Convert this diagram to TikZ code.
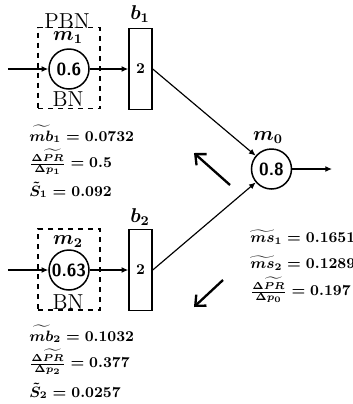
\documentclass[tikz,border=0pt]{standalone}
\usetikzlibrary{arrows.meta}
\begin{document}
\begin{tikzpicture}[x=0.6pt,y=-0.6pt,
  neuron/.style={circle,draw,line width=0.9pt,minimum size=24pt,inner sep=0pt,font=\sffamily\bfseries\fontsize{10.5}{12}\selectfont},
  bar/.style={draw,line width=0.9pt,minimum width=13.8pt,minimum height=48.6pt,inner sep=0pt,font=\bfseries\small},
  dbox/.style={draw,dashed,line width=0.8pt,minimum width=37.2pt,minimum height=48.6pt,inner sep=0pt},
  conn/.style={line width=0.7pt,-{Latex[length=4pt,width=3.5pt]}},
  flow/.style={line width=1.4pt,-{Straight Barb[length=5pt,width=9pt]}},
  txt/.style={anchor=west,inner sep=0pt,font=\fontsize{8.9}{11}\selectfont\boldmath},
  lbl/.style={inner sep=0pt,font=\large\boldmath},
  rm/.style={inner sep=0pt,font=\fontsize{13}{15}\selectfont}]
\useasboundingbox (0,0) rectangle (353,404);
% top branch
\node[dbox] (d1) at (69,68) {};
\node[neuron] (m1) at (69,69) {0.6};
\node[bar] (b1) at (140.5,69) {2};
\node[rm] (pbn) at (67,21) {PBN};
\node[lbl] (lm1) at (68,38) {$m_1$};
\node[rm] (bn1) at (68,99) {BN};
\node[lbl] (lb1) at (140,14) {$b_1$};
\coordinate (in1) at (8,69);
\draw[conn] (in1) -- (m1);
\draw[conn] (m1) -- (b1);
% bottom branch
\node[dbox] (d2) at (69,269.5) {};
\node[neuron] (m2) at (69,270) {0.63};
\node[bar] (b2) at (140.5,270) {2};
\node[lbl] (lm2) at (68,242) {$m_2$};
\node[rm] (bn2) at (68,302) {BN};
\node[lbl] (lb2) at (140,217) {$b_2$};
\coordinate (in2) at (8,270);
\draw[conn] (in2) -- (m2);
\draw[conn] (m2) -- (b2);
% output neuron
\node[neuron] (m0) at (271.5,169) {0.8};
\node[lbl] (lm0) at (268,138) {$m_0$};
\coordinate (out0) at (332,169);
\draw[conn] (m0) -- (out0);
\draw[conn] (b1.east) -- (m0);
\draw[conn] (b2.east) -- (m0);
% flow arrows
\coordinate (fa1) at (230,185);
\coordinate (fa2) at (194,153);
\draw[flow] (fa1) -- (fa2);
\coordinate (fb1) at (223,280);
\coordinate (fb2) at (194,307);
\draw[flow] (fb1) -- (fb2);
% left texts
\node[txt] (t1) at (29,134) {$\widetilde{mb}_1 = 0.0732$};
\node[txt] (t2) at (29,162) {$\frac{\Delta \widetilde{PR}}{\Delta p_1} = 0.5$};
\node[txt] (t3) at (29,190) {$\tilde{S}_1 = 0.092$};
\node[txt] (t4) at (29,334) {$\widetilde{mb}_2 = 0.1032$};
\node[txt] (t5) at (29,362) {$\frac{\Delta \widetilde{PR}}{\Delta p_2} = 0.377$};
\node[txt] (t6) at (29,391) {$\tilde{S}_2 = 0.0257$};
% right texts
\node[txt] (r1) at (250,237) {$\widetilde{ms}_1 = 0.1651$};
\node[txt] (r2) at (250,263) {$\widetilde{ms}_2 = 0.1289$};
\node[txt] (r3) at (250,290) {$\frac{\Delta \widetilde{PR}}{\Delta p_0} = 0.197$};
\end{tikzpicture}
\end{document}
